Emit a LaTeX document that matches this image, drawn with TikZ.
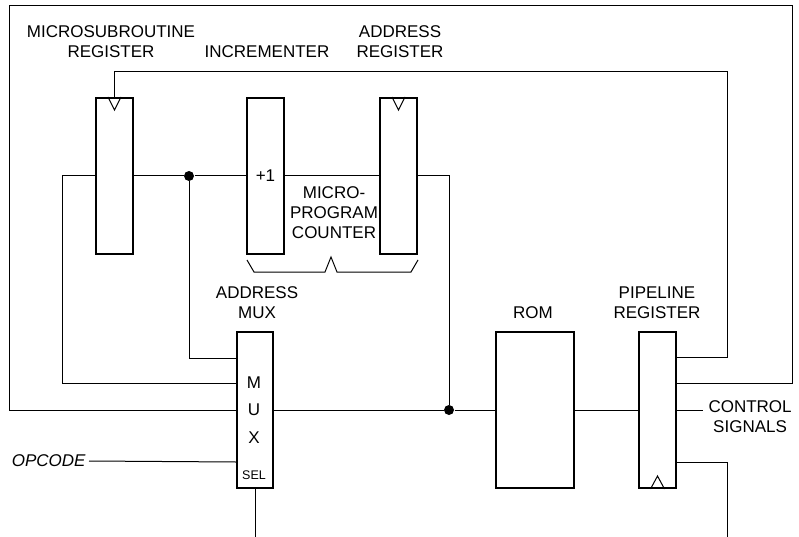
\documentclass[tikz,border=0pt]{standalone}
\usepackage{fontspec}
\setmainfont{Liberation Sans}
\begin{document}
\begin{tikzpicture}[x=1pt, y=-1pt, line width=1pt,
  every node/.style={font=\fontsize{17}{20}\selectfont, align=center, inner sep=0pt},
  blk/.style={draw, line width=2pt, minimum width=37pt, minimum height=156pt},
  dot/.style={circle, fill, minimum size=10pt}]
  \useasboundingbox (0,0) rectangle (799,537);

  % upper row
  \node[blk] (msr) at (114.5,176) {};
  \node[blk] (inc) at (265.5,176) {+1};
  \node[blk] (ar) at (398.5,176) {};
  \node at (111,42) {MICROSUBROUTINE\\REGISTER};
  \node at (267,52) {INCREMENTER};
  \node at (400,42) {ADDRESS\\REGISTER};
  \node at (334,213) {MICRO-\\PROGRAM\\COUNTER};
  \foreach \r in {msr,ar}
    \draw ([xshift=-6.5pt]\r.north) -- ++(6.5,13) -- ++(6.5,-13);
  \draw (247,260) -- (254,272) -- (325,272) -- (331,257) -- (337,272)
    -- (411,272) -- (418,260);

  % lower row
  \node[blk, minimum width=36pt] (mux) at (255,410) {};
  \node[blk, minimum width=78pt] (rom) at (535,410) {};
  \node[blk] (pipe) at (657.5,410) {};
  \node at (257,303) {ADDRESS\\MUX};
  \node at (533,313) {ROM};
  \node at (657,303) {PIPELINE\\REGISTER};
  \foreach \y/\t in {383/M,410/U,438/X}
    \node at (254,\y) {\t};
  \node[font=\fontsize{12.5}{14}\selectfont] at (254,475) {SEL};
  \draw ([xshift=-7pt]pipe.south) -- ++(7,-13) -- ++(7,13);
  \node[anchor=east, font=\fontsize{17}{20}\selectfont\itshape] (opcode) at (86,461) {OPCODE};
  \node[anchor=north west] (ctrl) at (708,400) {CONTROL\\SIGNALS};

  % wires
  \node[dot] (dotA) at (189,176) {};
  \node[dot] (dotB) at (449,410) {};
  \coordinate (loopL) at (62,176);
  \coordinate (frameNE) at (792,6);
  \coordinate (frameSW) at (9,410);
  \coordinate (clkNE) at (727,72);
  \coordinate (ctrlend) at (703,410);
  \coordinate (selend) at (255,537);
  \coordinate (outend) at (727,537);
  \draw (msr.east) -- (dotA) -- (inc.west);
  \draw (inc.east) -- (ar.west);
  \draw (ar.east) -| (dotB);
  \draw (mux.east) -- (dotB) -- (rom.west);
  \draw (rom.east) -- (pipe.west);
  \draw (pipe.east) -- (ctrlend);
  \draw ([yshift=27pt]mux.west) -| (loopL) -- (msr.west);
  \draw (dotA) |- ([yshift=52pt]mux.west);
  \draw (opcode.east) ++(3,0) -- ([yshift=-52pt]mux.west);
  \draw (mux.south) -- (selend);
  \draw ([yshift=27pt]pipe.east) -| (frameNE) -| (frameSW) -- (mux.west);
  \draw ([yshift=53pt]pipe.east) -| (clkNE) -| (msr.north);
  \draw ([yshift=-52pt]pipe.east) -| (outend);
\end{tikzpicture}
\end{document}
